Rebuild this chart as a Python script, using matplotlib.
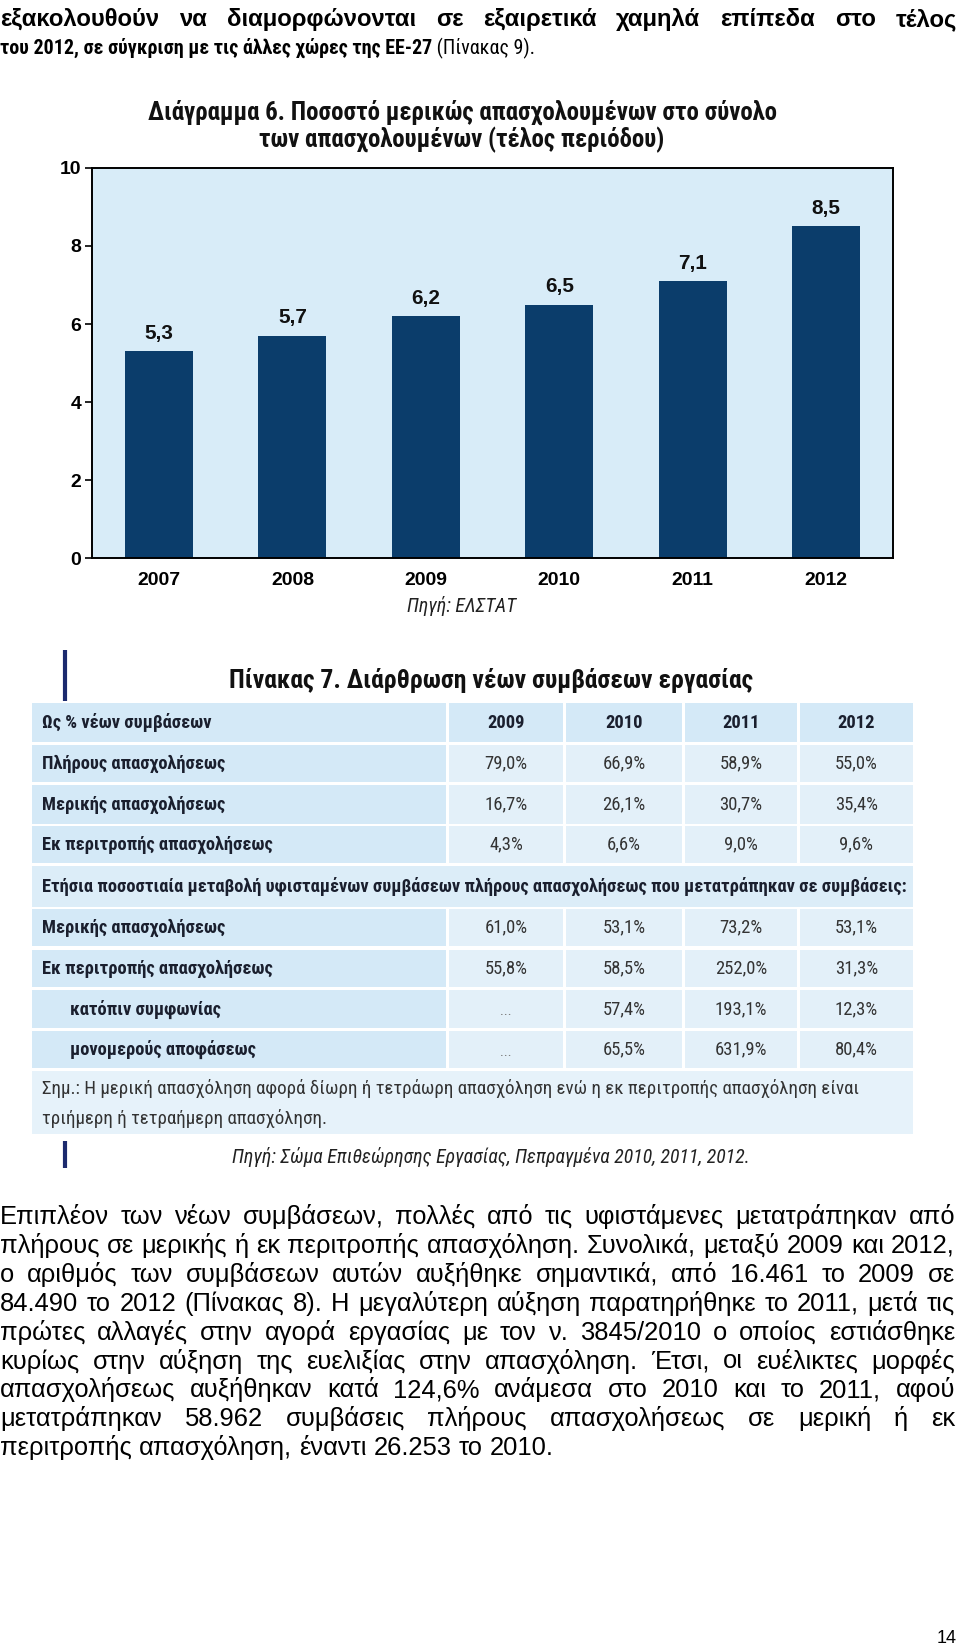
import matplotlib
matplotlib.use('Agg')
import matplotlib.pyplot as plt
from matplotlib import font_manager as fm
from matplotlib.patches import Rectangle

# ---------------- data ----------------
years = ['2007', '2008', '2009', '2010', '2011', '2012']
part_time_share = [5.3, 5.7, 6.2, 6.5, 7.1, 8.5]
y_ticks = [0, 2, 4, 6, 8, 10]

chart_title = ['Διάγραμμα 6. Ποσοστό μερικώς απασχολουμένων στο σύνολο',
               'των απασχολουμένων (τέλος περιόδου)']
chart_source = 'Πηγή: ΕΛΣΤΑΤ'

table_title = 'Πίνακας 7. Διάρθρωση νέων συμβάσεων εργασίας'
table_years = ['2009', '2010', '2011', '2012']
header_label = 'Ως % νέων συμβάσεων'
new_labels = ['Πλήρους απασχολήσεως', 'Μερικής απασχολήσεως', 'Εκ περιτροπής απασχολήσεως']
new_values = [['79,0%', '66,9%', '58,9%', '55,0%'],
              ['16,7%', '26,1%', '30,7%', '35,4%'],
              ['4,3%', '6,6%', '9,0%', '9,6%']]
span_label = ('Ετήσια ποσοστιαία μεταβολή υφισταμένων συμβάσεων πλήρους '
              'απασχολήσεως που μετατράπηκαν σε συμβάσεις:')
conv_labels = ['Μερικής απασχολήσεως', 'Εκ περιτροπής απασχολήσεως',
               'κατόπιν συμφωνίας', 'μονομερούς αποφάσεως']
conv_indent = [False, False, True, True]
conv_values = [['61,0%', '53,1%', '73,2%', '53,1%'],
               ['55,8%', '58,5%', '252,0%', '31,3%'],
               ['...', '57,4%', '193,1%', '12,3%'],
               ['...', '65,5%', '631,9%', '80,4%']]
note_lines = ['Σημ.: Η μερική απασχόληση αφορά δίωρη ή τετράωρη απασχόληση ενώ η εκ περιτροπής απασχόληση είναι',
              'τριήμερη ή τετραήμερη απασχόληση.']
table_source = 'Πηγή: Σώμα Επιθεώρησης Εργασίας, Πεπραγμένα 2010, 2011, 2012.'

top_line1 = 'εξακολουθούν να διαμορφώνονται σε εξαιρετικά χαμηλά επίπεδα στο τέλος'
top_line2_bold = 'του 2012, σε σύγκριση με τις άλλες χώρες της ΕΕ-27'
top_line2_reg = ' (Πίνακας 9).'
para_lines = [
    'Επιπλέον των νέων συμβάσεων, πολλές από τις υφιστάμενες μετατράπηκαν από',
    'πλήρους σε μερικής ή εκ περιτροπής απασχόληση. Συνολικά, μεταξύ 2009 και 2012,',
    'ο αριθμός των συμβάσεων αυτών αυξήθηκε σημαντικά, από 16.461 το 2009 σε',
    '84.490 το 2012 (Πίνακας 8). Η μεγαλύτερη αύξηση παρατηρήθηκε το 2011, μετά τις',
    'πρώτες αλλαγές στην αγορά εργασίας με τον ν. 3845/2010 ο οποίος εστιάσθηκε',
    'κυρίως στην αύξηση της ευελιξίας στην απασχόληση. Έτσι, οι ευέλικτες μορφές',
    'απασχολήσεως αυξήθηκαν κατά 124,6% ανάμεσα στο 2010 και το 2011, αφού',
    'μετατράπηκαν 58.962 συμβάσεις πλήρους απασχολήσεως σε μερική ή εκ',
    'περιτροπής απασχόληση, έναντι 26.253 το 2010.',
]
page_number = '14'

# ---------------- fonts ----------------
names = {f.name for f in fm.fontManager.ttflist}
BODY = ['Liberation Sans', 'DejaVu Sans']
NARROW = ['Roboto Condensed', 'DejaVu Sans'] if 'Roboto Condensed' in names else BODY

NAVY = '#0b3d6b'
PLOT_BG = '#d8ecf8'

fig = plt.figure(figsize=(9.6, 16.46), dpi=100)
pax = fig.add_axes([0, 0, 1, 1])
pax.set_xlim(0, 960)
pax.set_ylim(1646, 0)
pax.axis('off')
R = fig.canvas.get_renderer()


def width(t):
    return t.get_window_extent(renderer=R).width


def nat_width(s, size, family, weight='normal', style='normal'):
    t = pax.text(0, 0, s, fontsize=size, family=family, fontweight=weight, fontstyle=style)
    w = width(t)
    t.remove()
    return w


def fit_size(s, target, family, weight='normal', style='normal'):
    return 10 * target / nat_width(s, 10, family, weight, style)


def place_line(y, text, x0, x1, size, family, weight='normal', justify=True, color='black'):
    words = text.split(' ')
    ts = [pax.text(0, y, w, fontsize=size, family=family, fontweight=weight,
                   va='baseline', ha='left', color=color) for w in words]
    ws = [width(t) for t in ts]
    if justify and len(words) > 1:
        gap = (x1 - x0 - sum(ws)) / (len(words) - 1)
    else:
        gap = nat_width('a a', size, family, weight) - 2 * nat_width('a', size, family, weight)
    x = x0
    for t, w in zip(ts, ws):
        t.set_x(x)
        x += w + gap
    return x - gap


# ---------------- top text ----------------
BODY_SIZE = 10 * 952 / max(nat_width(l, 10, BODY) for l in para_lines[:-1])
s1 = min(BODY_SIZE, fit_size(top_line1, 850, BODY, 'bold'))
place_line(26, top_line1, 0, 957, s1, BODY, weight='bold', justify=True)
s2 = 10 * 535 / (nat_width(top_line2_bold, 10, NARROW, 'bold') + nat_width(top_line2_reg, 10, NARROW))
t = pax.text(0, 54, top_line2_bold, fontsize=s2, family=NARROW, fontweight='bold', va='baseline')
xe = width(t)
pax.text(xe, 54, top_line2_reg, fontsize=s2, family=NARROW, va='baseline')

# ---------------- chart ----------------
tsize = fit_size(chart_title[0], 631, NARROW, 'bold')
pax.text(462, 112, chart_title[0], fontsize=tsize, family=NARROW, fontweight='bold',
         ha='center', va='center', color='#111111')
pax.text(462, 140, chart_title[1], fontsize=tsize, family=NARROW, fontweight='bold',
         ha='center', va='center', color='#111111')

bax = fig.add_axes([92.3 / 960, 1 - 558.2 / 1646, 800.6 / 960, 390.3 / 1646])
bax.set_facecolor(PLOT_BG)
xpos = list(range(len(years)))
bax.bar(xpos, part_time_share, width=0.51, color=NAVY, zorder=2)
bax.set_xlim(-0.5, len(years) - 0.5)
bax.set_ylim(0, 10)
year_size = fit_size('2007', 43, BODY, 'bold')
val_lab_size = fit_size('5,3', 29, BODY, 'bold')
bax.set_yticks(y_ticks)
bax.set_yticklabels([str(v) for v in y_ticks], fontsize=year_size, fontweight='bold', family=BODY)
bax.set_xticks(xpos)
bax.set_xticklabels(years, fontsize=year_size, fontweight='bold', family=BODY)
bax.tick_params(axis='x', length=0, pad=10)
bax.tick_params(axis='y', length=5, width=1.2, direction='out', pad=3)
for sp in bax.spines.values():
    sp.set_linewidth(1.4)
    sp.set_color('black')
for i, v in zip(xpos, part_time_share):
    bax.annotate(f'{v:.1f}'.replace('.', ','), (i, v), xytext=(0, 18),
                 textcoords='offset pixels', ha='center', va='center',
                 fontsize=val_lab_size, fontweight='bold', family=BODY, color='#111111')
src_size = fit_size(chart_source, 109, NARROW, style='italic')
pax.text(462, 606, chart_source, fontsize=src_size, fontstyle='italic', family=NARROW,
         ha='center', va='center', color='#222222')

# ---------------- table ----------------
col_x = [(31.5, 446), (449, 563), (566, 682), (685, 797), (800, 913)]
row_y = [(703, 742), (745, 782), (785, 824), (826, 863), (866, 907),
         (909, 946), (950, 987), (990, 1028), (1031, 1068), (1071, 1134)]
LAB_BG = '#d4e9f7'
VAL_BG = '#e3f0f9'
SPAN_BG = '#dcedf8'
NOTE_BG = '#e6f2fa'


def cell(x0, x1, y0, y1, color):
    pax.add_patch(Rectangle((x0, y0), x1 - x0, y1 - y0, facecolor=color,
                            edgecolor='none', zorder=1))


pax.plot([65, 65], [650, 701], color='#1c2a6e', lw=3, solid_capstyle='butt')
pax.plot([65, 65], [1141, 1168], color='#1c2a6e', lw=3, solid_capstyle='butt')

ttsize = fit_size(table_title, 524, NARROW, 'bold')
pax.text(491, 680, table_title, fontsize=ttsize, family=NARROW, fontweight='bold',
         ha='center', va='center', color='#111111')

lab_size = fit_size(span_label, 862, NARROW, 'bold')
val_size = fit_size('79,0%', 43, NARROW)
LAB_C = '#1a1f2e'
VAL_C = '#333333'

y0, y1 = row_y[0]
cell(*col_x[0], y0, y1, LAB_BG)
pax.text(42, (y0 + y1) / 2, header_label, fontsize=lab_size, family=NARROW,
         fontweight='bold', va='center', color=LAB_C)
for j, yr in enumerate(table_years):
    cx0, cx1 = col_x[j + 1]
    cell(cx0, cx1, y0, y1, LAB_BG)
    pax.text((cx0 + cx1) / 2, (y0 + y1) / 2, yr, fontsize=lab_size, family=NARROW,
             fontweight='bold', ha='center', va='center', color=LAB_C)

for i, (lab, vals) in enumerate(zip(new_labels, new_values)):
    y0, y1 = row_y[1 + i]
    cell(*col_x[0], y0, y1, LAB_BG)
    pax.text(42, (y0 + y1) / 2, lab, fontsize=lab_size, family=NARROW,
             fontweight='bold', va='center', color=LAB_C)
    for j, v in enumerate(vals):
        cx0, cx1 = col_x[j + 1]
        cell(cx0, cx1, y0, y1, VAL_BG)
        pax.text((cx0 + cx1) / 2, (y0 + y1) / 2, v, fontsize=val_size, family=NARROW,
                 ha='center', va='center', color=VAL_C)

y0, y1 = row_y[4]
cell(col_x[0][0], col_x[-1][1], y0, y1, SPAN_BG)
pax.text(42, (y0 + y1) / 2, span_label, fontsize=lab_size, family=NARROW,
         fontweight='bold', va='center', color=LAB_C)

for i, (lab, ind, vals) in enumerate(zip(conv_labels, conv_indent, conv_values)):
    y0, y1 = row_y[5 + i]
    cell(*col_x[0], y0, y1, LAB_BG)
    pax.text(70 if ind else 42, (y0 + y1) / 2, lab, fontsize=lab_size, family=NARROW,
             fontweight='bold', va='center', color=LAB_C)
    for j, v in enumerate(vals):
        cx0, cx1 = col_x[j + 1]
        cell(cx0, cx1, y0, y1, VAL_BG)
        if v == '...':
            pax.text((cx0 + cx1) / 2, (y0 + y1) / 2 + 6, v, fontsize=val_size * 0.8,
                     family=NARROW, ha='center', va='baseline', color='#777777')
        else:
            pax.text((cx0 + cx1) / 2, (y0 + y1) / 2, v, fontsize=val_size, family=NARROW,
                     ha='center', va='center', color=VAL_C)

y0, y1 = row_y[9]
cell(col_x[0][0], col_x[-1][1], y0, y1, NOTE_BG)
nsize = fit_size(note_lines[0], 818, NARROW)
pax.text(42, 1088, note_lines[0], fontsize=nsize, family=NARROW, va='center', color=VAL_C)
pax.text(42, 1118, note_lines[1], fontsize=nsize, family=NARROW, va='center', color=VAL_C)

ssize = fit_size(table_source, 519, NARROW, style='italic')
pax.text(491, 1157, table_source, fontsize=ssize, family=NARROW, fontstyle='italic',
         ha='center', va='center', color='#222222')

# ---------------- paragraph ----------------
for i, line in enumerate(para_lines):
    y = 1224 + i * 28.9
    place_line(y, line, 0, 955, BODY_SIZE, BODY, justify=(i < len(para_lines) - 1))

pax.text(957, 1643, page_number, fontsize=13, family=BODY, ha='right', va='baseline')

fig.savefig('out.png', dpi=100)
